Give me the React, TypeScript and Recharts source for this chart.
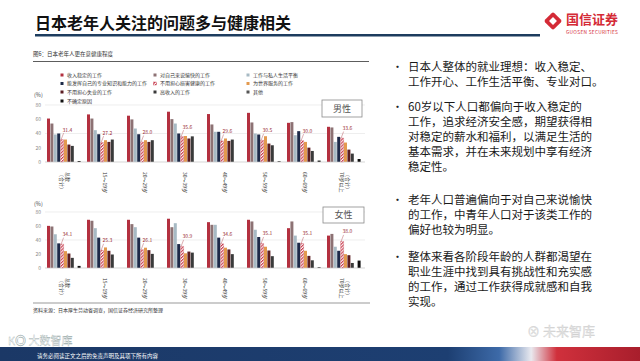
import { BarChart, Bar, XAxis, YAxis, CartesianGrid, LabelList } from "recharts";

const FONT = "'Noto Sans CJK SC', 'Noto Sans', sans-serif";

// age groups (x axis), each label may wrap into two rotated columns
const ageLabels = [
  ["总数", "（合计）"],
  ["15～19岁"],
  ["20～29岁"],
  ["30～39岁"],
  ["40～49岁"],
  ["50～59岁"],
  ["60～69岁"],
  ["（合计）", "70岁以上"],
];

const SERIES = [
  "收入稳定的工作",
  "对自己来说愉快的工作",
  "工作与私人生活平衡",
  "能发挥自己的专业知识和能力的工作",
  "不用担心损害健康的工作",
  "为世界服务的工作",
  "不用担心失业的工作",
  "高收入的工作",
  "其他",
  "不确定原因",
];

const COLORS = [
  "#b3303f",
  "#8d7274",
  "#a7bac4",
  "#1d2a48",
  "url(#hatchRed)",
  "#e39a4f",
  "#5c1d22",
  "#3a3a3a",
  "#555555",
  "#111111",
];

const yTicks = [0, 10, 20, 30, 40, 50, 60, 70, 80];

// 男性 (%)
const maleStable = [61, 66.8, 65, 70.6, 67.3, 69, 55, 49.4];
const maleEnjoy = [54, 61, 59.8, 60.2, 52.7, 55.5, 56, 48.5];
const maleBalance = [38.6, 44.7, 47, 54, 42.4, 40, 37.6, 28.2];
const maleSkill = [40, 39, 39, 40, 42.4, 38.6, 43.3, 35.3];
const maleHealth = [31.4, 27.2, 28.0, 35.6, 29.6, 30.5, 30.0, 33.6];
const maleSociety = [31.5, 30.6, 30.6, 36.5, 33, 36.2, 28.2, 27.3];
const maleSecurity = [24.5, 28.2, 28.2, 33, 29.6, 25.9, 20.2, 17.4];
const maleIncome = [22.6, 31.5, 30.6, 36, 31.5, 23.5, 15.5, 11.8];
const maleOther = [0, 0, 0, 0, 0, 0, 0, 0];
const maleUnsure = [1.4, 0, 0, 0, 0, 1, 2, 4.2];

// 女性 (%)
const femaleStable = [60.2, 68.9, 68.9, 70.4, 65.5, 68.9, 56.9, 46.3];
const femaleEnjoy = [59.3, 67.5, 62.7, 58.3, 61.7, 66.5, 66.5, 48.7];
const femaleBalance = [48.2, 56.9, 58.3, 64, 61.7, 54.5, 46.3, 30.4];
const femaleSkill = [35.2, 43.4, 43.4, 34.2, 43.4, 44.3, 36.1, 24.6];
const femaleHealth = [34.1, 25.3, 26.1, 30.9, 34.6, 35.1, 35.1, 38.0];
const femaleSociety = [24.1, 29.4, 29, 21, 29, 30.4, 24.6, 19.8];
const femaleSecurity = [20.7, 24.6, 25.5, 23.5, 26.5, 25, 17.3, 18.3];
const femaleIncome = [14.5, 19.3, 20.2, 22, 19.8, 16.9, 11, 7.2];
const femaleOther = [0, 0, 0, 0, 0, 0, 0, 0];
const femaleUnsure = [3, 0, 0, 0, 0, 0, 1, 10.6];

const maleSeries = [maleStable, maleEnjoy, maleBalance, maleSkill, maleHealth, maleSociety, maleSecurity, maleIncome, maleOther, maleUnsure];
const femaleSeries = [femaleStable, femaleEnjoy, femaleBalance, femaleSkill, femaleHealth, femaleSociety, femaleSecurity, femaleIncome, femaleOther, femaleUnsure];

const bullets = [
  ["日本人整体的就业理想：收入稳定、", "工作开心、工作生活平衡、专业对口。"],
  ["60岁以下人口都偏向于收入稳定的", "工作，追求经济安全感，期望获得相", "对稳定的薪水和福利，以满足生活的", "基本需求，并在未来规划中享有经济", "稳定性。"],
  ["老年人口普遍偏向于对自己来说愉快", "的工作，中青年人口对于该类工作的", "偏好也较为明显。"],
  ["整体来看各阶段年龄的人群都渴望在", "职业生涯中找到具有挑战性和充实感", "的工作，通过工作获得成就感和自我", "实现。"],
];
const bulletTops = [71, 111, 204, 261];

function buildRows(series: number[][]) {
  return ageLabels.map((lines, i) => {
    const row: Record<string, any> = { name: lines.join(""), idx: i };
    series.forEach((s, k) => {
      row[`s${k}`] = s[i];
    });
    return row;
  });
}

function AgeTick(props: any) {
  const { x, y, payload } = props;
  const lines = ageLabels[payload.index] || [String(payload.value)];
  const start = 2 - ((lines.length - 1) * 5.5) / 2;
  return (
    <g transform={`translate(${x},${y + 2})`}>
      <text transform="rotate(90)" fontSize={5} fill="#333" fontFamily={FONT}>
        {lines.map((l, i) => (
          <tspan key={i} x={0} dy={i === 0 ? start : 5.5}>
            {l}
          </tspan>
        ))}
      </text>
    </g>
  );
}

function HealthLabel(props: any) {
  const { x, y, width, value } = props;
  const cx = x + width / 2;
  return (
    <g>
      <line x1={cx - 1} y1={y} x2={cx + 1.5} y2={y - 6.5} stroke="#a8353d" strokeWidth={0.4} />
      <text x={cx + 0.5} y={y - 8} fontSize={5} fill="#9b2f35" fontFamily={FONT}>
        {Number(value).toFixed(1)}
      </text>
    </g>
  );
}

function Panel({ series, top, height, bottom, xHeight }: any) {
  const rows = buildRows(series);
  return (
    <div style={{ position: "absolute", left: 0, top }}>
      <BarChart
        width={380}
        height={height}
        data={rows}
        margin={{ top: 10, right: 15, left: 15, bottom }}
        barCategoryGap={2}
        barGap={0.4}
      >
        <CartesianGrid vertical={false} stroke="#e2e2e2" strokeWidth={0.6} />
        <XAxis
          dataKey="name"
          interval={0}
          tickLine={false}
          axisLine={{ stroke: "#d0d0d0", strokeWidth: 0.6 }}
          height={xHeight}
          tick={<AgeTick />}
        />
        <YAxis
          width={30}
          domain={[0, 80]}
          ticks={yTicks}
          tickLine={false}
          axisLine={false}
          tickSize={2}
          tickMargin={2}
          tick={{ fontSize: 5, fill: "#888", fontFamily: FONT }}
        />
        {SERIES.map((s, i) => (
          <Bar
            key={s}
            dataKey={`s${i}`}
            fill={COLORS[i]}
            stroke={i === 4 ? "#c23a4b" : "none"}
            strokeWidth={i === 4 ? 0.3 : 0}
            isAnimationActive={false}
          >
            {i === 4 && <LabelList dataKey={`s${i}`} content={<HealthLabel />} />}
          </Bar>
        ))}
      </BarChart>
    </div>
  );
}

const legendCols = [62, 155, 248];
const legendRows = [75, 83.5, 92, 101];

export default function App() {
  return (
    <div
      style={{
        position: "absolute",
        left: 0,
        top: 0,
        width: 640,
        height: 361,
        overflow: "hidden",
        background: "#fff",
        fontFamily: FONT,
      }}
    >
      <svg width={0} height={0} style={{ position: "absolute" }}>
        <defs>
          <pattern id="hatchRed" patternUnits="userSpaceOnUse" width={2.2} height={2.2} patternTransform="rotate(45)">
            <rect width={2.2} height={2.2} fill="#ffffff" />
            <rect width={1.1} height={2.2} fill="#c8384a" />
          </pattern>
          <linearGradient id="band" x1="0" x2="1" y1="0" y2="0">
            <stop offset="0" stopColor="#1b3866" />
            <stop offset="0.7" stopColor="#1d3f72" />
            <stop offset="0.78" stopColor="#3d6aa8" />
            <stop offset="0.83" stopColor="#e9e9ef" />
            <stop offset="0.87" stopColor="#d0303c" />
            <stop offset="1" stopColor="#a81e2c" />
          </linearGradient>
        </defs>
      </svg>

      <Panel series={maleSeries} top={95} height={110} bottom={5} xHeight={38} />
      <Panel series={femaleSeries} top={202} height={104} bottom={2} xHeight={36} />

      <svg
        width={640}
        height={361}
        style={{ position: "absolute", left: 0, top: 0, pointerEvents: "none" }}
        fontFamily={FONT}
      >
        {/* title */}
        <text x={35} y={29} fontSize={16} fontWeight={700} fill="#111">
          日本老年人关注的问题多与健康相关
        </text>
        <rect x={35} y={34} width={505} height={2.5} fill="#1d3c5e" />

        {/* logo */}
        <g transform="translate(553,21)">
          <rect x={-6.5} y={-6.5} width={13} height={13} rx={2} fill="#d42a36" transform="rotate(45)" />
          <rect x={-2.8} y={-2.8} width={5.6} height={5.6} fill="#fff" transform="rotate(45)" />
        </g>
        <text x={566} y={24} fontSize={13} fontWeight={700} fill="#d42a36">
          国信证券
        </text>
        <text x={566} y={34} fontSize={4.8} fill="#d42a36" letterSpacing={0.3}>
          GUOSEN SECURITIES
        </text>

        {/* caption */}
        <text x={33} y={56} fontSize={5.5} fill="#333">
          图6：日本老年人更在意健康程度
        </text>
        <line x1={33} x2={369} y1={61.5} y2={61.5} stroke="#333" strokeWidth={0.8} />

        {/* legend */}
        {SERIES.map((s, i) => {
          const cx = legendCols[i % 3];
          const cy = legendRows[Math.floor(i / 3)];
          return (
            <g key={s}>
              <rect
                x={cx - 1.5}
                y={cy - 1.5}
                width={3}
                height={3}
                fill={COLORS[i]}
                stroke={i === 4 ? "#c23a4b" : "none"}
                strokeWidth={0.4}
              />
              <text x={cx + 5} y={cy + 1.8} fontSize={5} fill="#333">
                {s}
              </text>
            </g>
          );
        })}

        <text x={34} y={97} fontSize={5.5} fill="#444">(%)</text>
        <text x={34} y={206} fontSize={5.5} fill="#444">(%)</text>

        <rect x={322} y={100} width={40} height={17} fill="#fff" stroke="#8a8a8a" strokeWidth={0.8} />
        <text x={342} y={111.8} fontSize={9} fill="#555" textAnchor="middle">男性</text>
        <rect x={323} y={207} width={41} height={16} fill="#fff" stroke="#8a8a8a" strokeWidth={0.8} />
        <text x={343.5} y={218.3} fontSize={9} fill="#555" textAnchor="middle">女性</text>

        {/* source */}
        <line x1={33} x2={370} y1={303} y2={303} stroke="#999" strokeWidth={1} />
        <text x={33} y={312} fontSize={5} fill="#333">
          资料来源：日本厚生劳动省调查，国信证券经济研究所整理
        </text>

        {/* right text */}
        {bullets.map((para, p) => (
          <g key={p}>
            <text x={392} y={bulletTops[p]} fontSize={11} fill="#222">•</text>
            {para.map((line, j) => (
              <text key={j} x={408} y={bulletTops[p] + j * 15} fontSize={11.5} fill="#1a1a1a">
                {line}
              </text>
            ))}
          </g>
        ))}

        {/* footer band */}
        <rect x={0} y={347} width={640} height={14} fill="url(#band)" />
        <text x={37} y={357.5} fontSize={5.5} fill="#fff">
          请务必阅读正文之后的免责声明及其项下所有内容
        </text>
        <text x={8} y={345} fontSize={11} fill="#fff" fillOpacity={0.75} stroke="#9aa" strokeWidth={0.3}>
          K◎ 大数智库
        </text>
        <text x={527} y={336} fontSize={13} fill="#e4e4e4" stroke="#ccc" strokeWidth={0.3}>
          ⊗ 未来智库
        </text>
      </svg>
    </div>
  );
}
